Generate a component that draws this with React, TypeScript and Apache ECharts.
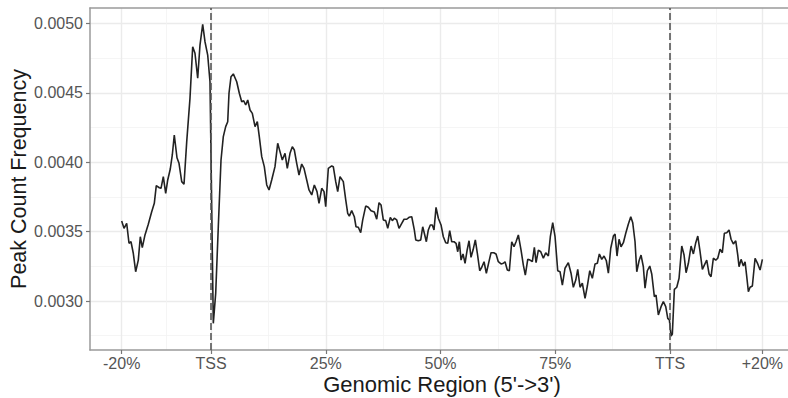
import React, { useEffect, useRef } from "react";
import * as echarts from "echarts";

// Position along the gene body in percent (TSS = 0, TTS = 100), flanks of ±20%
const POS = [
  -19.46, -18.95, -18.37, -17.86, -17.43, -16.93, -16.41, -15.84, -15.4, -14.97,
  -14.38, -13.66, -12.92, -12.35, -11.92, -11.26, -10.89, -10.39, -9.87, -9.43,
  -8.87, -8.43, -8.0, -7.41, -6.97, -6.38, -5.88, -5.29, -4.58, -3.99,
  -3.49, -2.9, -2.4, -1.81, -1.31, -0.72, -0.22, 0.5, 1.02, 1.59,
  2.18, 2.68, 3.2, 3.64, 3.92, 4.36, 4.86, 5.6, 6.17, 6.69,
  7.12, 7.56, 8.0, 8.5, 9.0, 9.59, 10.09, 10.52, 11.05, 11.61,
  12.14, 12.64, 13.22, 13.94, 14.53, 15.03, 15.53, 16.12, 16.62, 17.21,
  17.71, 18.15, 18.67, 19.17, 19.76, 20.26, 20.85, 21.35, 21.94, 22.51,
  23.09, 23.53, 24.12, 24.62, 24.99, 25.56, 26.3, 26.64, 27.17, 27.6,
  28.1, 28.82, 29.35, 29.78, 30.13, 30.65, 31.22, 31.59, 32.09, 32.61,
  33.05, 33.7, 34.27, 34.86, 35.58, 36.1, 36.6, 37.04, 37.54, 38.06,
  38.5, 39.06, 39.5, 39.93, 40.46, 40.96, 41.55, 42.05, 42.64, 43.14,
  43.73, 44.29, 44.6, 45.16, 45.69, 46.12, 46.47, 46.91, 47.34, 47.78,
  48.21, 48.58, 49.02, 49.52, 50.11, 50.61, 51.13, 51.57, 52.0, 52.44,
  52.94, 53.38, 53.75, 54.1, 54.47, 54.9, 55.34, 55.77, 56.21, 56.64,
  57.08, 57.58, 58.02, 58.54, 58.98, 59.48, 59.98, 60.5, 61.0, 61.59,
  62.09, 62.59, 63.18, 63.68, 64.05, 64.55, 64.99, 65.51, 66.01, 66.45,
  66.95, 67.54, 68.04, 68.47, 69.0, 69.5, 70.0, 70.44, 70.81, 71.31,
  71.83, 72.4, 72.92, 73.49, 73.92, 74.44, 74.95, 75.53, 76.03, 76.54,
  77.12, 77.84, 78.43, 78.93, 79.46, 79.89, 80.39, 80.89, 81.48, 81.98,
  82.51, 83.07, 83.66, 84.16, 84.6, 85.12, 85.62, 86.12, 86.56, 87.08,
  87.65, 88.02, 88.45, 88.89, 89.32, 89.83, 90.35, 90.92, 91.44, 91.87,
  92.37, 92.75, 93.25, 93.68, 94.18, 94.55, 95.05, 95.58, 96.01, 96.58,
  96.95, 97.45, 98.04, 98.54, 99.06, 99.5, 99.85, 100.22, 100.5, 100.94,
  101.46, 101.96, 102.55, 103.05, 103.49, 103.99, 104.58, 105.08, 105.6, 106.04,
  106.54, 107.04, 107.47, 107.99, 108.5, 108.93, 109.43, 109.96, 110.39, 110.89,
  111.39, 111.83, 112.35, 112.85, 113.29, 113.79, 114.31, 114.75, 115.03, 115.47,
  115.97, 116.34, 116.71, 117.06, 117.43, 117.93, 118.52, 119.11, 119.61, 120.11,
];

// Peak count frequency at each position
const FREQ = [
  0.003576, 0.003524, 0.00356, 0.003416, 0.003427, 0.003344, 0.003211, 0.003295, 0.003463, 0.003384,
  0.003476, 0.003553, 0.003643, 0.003704, 0.003831, 0.003816, 0.003812, 0.003896, 0.003776, 0.003872,
  0.003951, 0.004052, 0.004196, 0.004032, 0.003992, 0.00386, 0.003841, 0.004148, 0.00446, 0.004832,
  0.004785, 0.004605, 0.004844, 0.004994, 0.004868, 0.004772, 0.00458, 0.002839, 0.003055, 0.003535,
  0.004016, 0.004184, 0.004256, 0.004292, 0.004497, 0.004616, 0.004636, 0.00458, 0.004497, 0.004436,
  0.004443, 0.004412, 0.004448, 0.004376, 0.004352, 0.004256, 0.004292, 0.004184, 0.00404, 0.003968,
  0.003836, 0.0038, 0.003872, 0.003968, 0.004136, 0.004076, 0.004016, 0.004064, 0.003956, 0.004064,
  0.004112, 0.004088, 0.003992, 0.003908, 0.003987, 0.003956, 0.003872, 0.0038, 0.003764, 0.003836,
  0.003788, 0.003704, 0.003812, 0.003788, 0.003679, 0.003956, 0.003973, 0.003968, 0.00386, 0.003788,
  0.003896, 0.00386, 0.003728, 0.003632, 0.003612, 0.003651, 0.003607, 0.003535, 0.003531, 0.003492,
  0.003584, 0.003684, 0.003675, 0.003651, 0.003641, 0.003589, 0.003708, 0.003692, 0.003584, 0.003579,
  0.003524, 0.003603, 0.003579, 0.003596, 0.003584, 0.003524, 0.00356, 0.003589, 0.003589, 0.003603,
  0.003607, 0.003512, 0.00344, 0.003434, 0.00344, 0.003535, 0.003488, 0.003427, 0.003512, 0.003548,
  0.003548, 0.003512, 0.003675, 0.003596, 0.003548, 0.003463, 0.00342, 0.003416, 0.003507, 0.003427,
  0.003427, 0.003416, 0.003355, 0.003427, 0.003295, 0.003339, 0.003272, 0.003362, 0.003434, 0.003315,
  0.003367, 0.00344, 0.003344, 0.003218, 0.003243, 0.003283, 0.0032, 0.003276, 0.003348, 0.003348,
  0.003339, 0.003283, 0.003267, 0.003272, 0.003283, 0.003223, 0.003218, 0.003427, 0.003391, 0.003427,
  0.003476, 0.003367, 0.003259, 0.003187, 0.0033, 0.003295, 0.003283, 0.003387, 0.003276, 0.003367,
  0.003355, 0.003308, 0.003348, 0.003324, 0.003463, 0.003564, 0.003463, 0.003218, 0.003211, 0.003115,
  0.003236, 0.003276, 0.0032, 0.003099, 0.003151, 0.003228, 0.003099, 0.003128, 0.003019, 0.003108,
  0.003218, 0.003164, 0.003267, 0.003272, 0.003339, 0.0033, 0.003324, 0.00329, 0.0032, 0.00338,
  0.003468, 0.003483, 0.003324, 0.003445, 0.003391, 0.00342, 0.003488, 0.003555, 0.003607, 0.003564,
  0.003427, 0.003211, 0.00329, 0.003331, 0.003247, 0.003092, 0.003218, 0.003252, 0.003195, 0.003031,
  0.003043, 0.002899, 0.002959, 0.002995, 0.002959, 0.002875, 0.002863, 0.002748, 0.002762, 0.003084,
  0.003099, 0.003164, 0.003396, 0.003331, 0.003204, 0.003272, 0.003396, 0.003339, 0.00342, 0.003468,
  0.003355, 0.003228, 0.003259, 0.003295, 0.003195, 0.003175, 0.003308, 0.003295, 0.003308, 0.003373,
  0.003348, 0.003488, 0.003492, 0.003512, 0.003445, 0.003411, 0.003434, 0.003331, 0.003247, 0.0033,
  0.003252, 0.003283, 0.003175, 0.003067, 0.003099, 0.003108, 0.003308, 0.003267, 0.003223, 0.0033,
];

// Axis breaks: labelled major breaks and the unlabelled minor ones between them
const X_BREAKS = [-19.46, 0, 25, 50, 75, 100, 120.11];
const X_LABELS = ["-20%", "TSS", "25%", "50%", "75%", "TTS", "+20%"];
const X_MINOR = [-9.73, 12.5, 37.5, 62.5, 87.5, 110.05];
const Y_BREAKS = [0.003, 0.0035, 0.004, 0.0045, 0.005];
const Y_MINOR = [0.00275, 0.00325, 0.00375, 0.00425, 0.00475];
const FEATURE_MARKS = [0, 100]; // TSS and TTS

const X_MIN = -26.36;
const X_MAX = 127.0;
const Y_MIN = 0.002647;
const Y_MAX = 0.005111;

const FONT = "'Liberation Sans', Arial, Helvetica, sans-serif";
const GRID_MAJOR = "#ebebeb";
const GRID_MINOR = "#f3f3f3";
const BORDER = { show: true, lineStyle: { color: "#9a9a9a", width: 1.5 } };

export default function App() {
  const ref = useRef<HTMLDivElement>(null);

  useEffect(() => {
    if (!ref.current) return;
    const chart = echarts.init(ref.current, null, { renderer: "svg" });
    const data = POS.map((p, i) => [p, FREQ[i]]);

    chart.setOption({
      animation: false,
      backgroundColor: "#ffffff",
      grid: {
        left: 90,
        top: 8,
        width: 704,
        height: 342,
        containLabel: false,
        outerBoundsMode: "none",
        show: false,
      },
      xAxis: [
        {
          type: "value",
          min: X_MIN,
          max: X_MAX,
          name: "Genomic Region (5'->3')",
          nameLocation: "middle",
          nameGap: 23,
          nameMoveOverlap: false,
          nameTextStyle: { fontFamily: FONT, fontSize: 22, lineHeight: 22, color: "#1a1a1a" },
          axisLine: { ...BORDER, onZero: false },
          axisTick: {
            show: true,
            length: 4,
            customValues: X_BREAKS,
            lineStyle: { color: "#777", width: 1.2 },
          },
          axisLabel: {
            customValues: X_BREAKS,
            margin: 5,
            fontFamily: FONT,
            fontSize: 16,
            lineHeight: 16,
            color: "#555",
            formatter: (v: number) => {
              let best = 0;
              X_BREAKS.forEach((b, i) => {
                if (Math.abs(b - v) < Math.abs(X_BREAKS[best] - v)) best = i;
              });
              return X_LABELS[best];
            },
          },
          splitLine: { show: true, lineStyle: { color: GRID_MAJOR, width: 1.4 } },
        },
        {
          type: "value",
          min: X_MIN,
          max: X_MAX,
          position: "top",
          axisLine: { ...BORDER, onZero: false },
          axisLabel: { show: false },
          axisTick: { show: false, customValues: X_MINOR },
          splitLine: { show: true, lineStyle: { color: GRID_MINOR, width: 0.8 } },
        },
      ],
      yAxis: [
        {
          type: "value",
          min: Y_MIN,
          max: Y_MAX,
          name: "Peak Count Frequency",
          nameLocation: "middle",
          nameGap: 60,
          nameMoveOverlap: false,
          nameTextStyle: { fontFamily: FONT, fontSize: 21.5, color: "#1a1a1a" },
          axisLine: { ...BORDER, onZero: false },
          axisTick: {
            show: true,
            length: 4,
            customValues: Y_BREAKS,
            lineStyle: { color: "#777", width: 1.2 },
          },
          axisLabel: {
            customValues: Y_BREAKS,
            margin: 7,
            fontFamily: FONT,
            fontSize: 16,
            color: "#555",
            formatter: (v: number) => v.toFixed(4),
          },
          splitLine: { show: true, lineStyle: { color: GRID_MAJOR, width: 1.4 } },
        },
        {
          type: "value",
          min: Y_MIN,
          max: Y_MAX,
          position: "right",
          axisLine: { ...BORDER, onZero: false },
          axisLabel: { show: false },
          axisTick: { show: false, customValues: Y_MINOR },
          splitLine: { show: true, lineStyle: { color: GRID_MINOR, width: 0.8 } },
        },
      ],
      series: [
        {
          type: "line",
          xAxisIndex: 0,
          yAxisIndex: 0,
          data,
          showSymbol: false,
          symbol: "none",
          lineStyle: { color: "#222", width: 1.6 },
          markLine: {
            silent: true,
            symbol: "none",
            label: { show: false },
            lineStyle: { color: "#555", width: 1.6, type: [7, 3] },
            data: FEATURE_MARKS.map((x) => ({ xAxis: x })),
          },
        },
      ],
    });

    return () => chart.dispose();
  }, []);

  return (
    <div
      ref={ref}
      style={{ position: "fixed", left: 0, top: 0, width: 788, height: 398, background: "#fff" }}
    />
  );
}
